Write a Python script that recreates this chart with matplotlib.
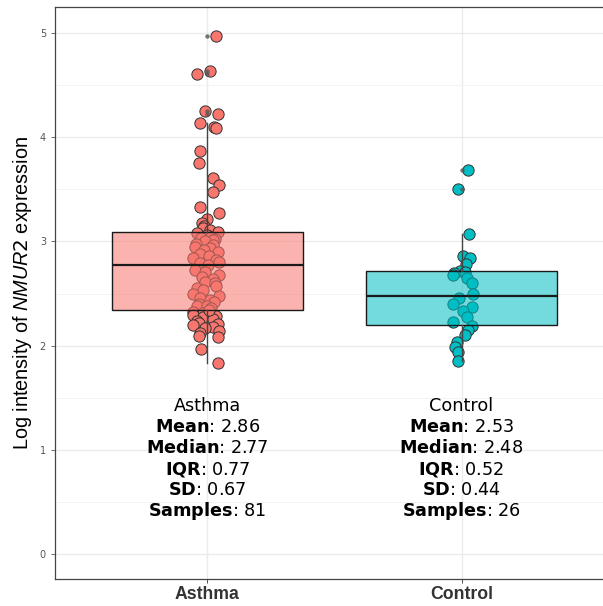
import numpy as np
import matplotlib
matplotlib.use("Agg")
import matplotlib.pyplot as plt

plt.rcParams['mathtext.fontset'] = 'custom'
plt.rcParams['mathtext.rm'] = 'DejaVu Sans'
plt.rcParams['mathtext.bf'] = 'DejaVu Sans:bold'
plt.rcParams['mathtext.it'] = 'Liberation Sans:italic'

# Data
groups = ["Asthma", "Control"]
colors = ["#F8766D", "#00BFC4"]

asthma_vals = [4.97, 4.64, 4.61, 4.25, 4.22, 4.14, 4.10, 4.09, 3.87, 3.75,
               3.61, 3.54, 3.47, 3.33, 3.27, 3.22, 3.18, 3.15, 3.13, 3.11,
               3.09, 3.08, 3.06, 3.04, 3.03, 3.02, 3.01, 3.00, 2.98, 2.97,
               2.95, 2.94, 2.92, 2.90, 2.88, 2.86, 2.84, 2.82, 2.80, 2.79,
               2.77,
               2.73, 2.71, 2.68, 2.66, 2.64, 2.61, 2.60, 2.57, 2.55, 2.53,
               2.50, 2.48, 2.46, 2.44, 2.42, 2.40, 2.38, 2.38, 2.36, 2.32,
               2.31, 2.30, 2.29, 2.29, 2.28, 2.27, 2.26, 2.24, 2.22, 2.21,
               2.20, 2.18, 2.17, 2.14, 2.12, 2.09, 2.08, 1.97, 1.83, 2.34]
asthma_jit = [0.035, 0.012, -0.040, -0.008, 0.043, -0.028, 0.024, 0.035, -0.028, -0.035,
              0.020, 0.047, 0.020, -0.028, 0.047, 0.000, -0.020, -0.012, -0.016, 0.010,
              0.040, -0.040, 0.000, 0.015, -0.025, 0.030, 0.020, -0.010, -0.045, 0.020,
              -0.048, 0.010, -0.015, 0.040, -0.030, 0.005, -0.055, 0.035, 0.047, -0.028,
              0.004,
              -0.048, -0.008, 0.047, -0.020, 0.020, -0.008, 0.030, 0.032, -0.040, -0.016,
              -0.055, 0.047, -0.028, 0.010, 0.024, -0.035, -0.040, 0.000, 0.015, -0.055,
              -0.016, 0.012, -0.055, 0.010, 0.035, -0.016, 0.020, -0.040, -0.035, 0.040,
              -0.055, 0.020, -0.008, 0.045, -0.030, -0.035, 0.043, -0.024, 0.043, 0.005]

control_vals = [3.69, 3.50, 3.07, 2.86, 2.84, 2.78, 2.72, 2.71, 2.70, 2.68,
                2.65, 2.60, 2.50, 2.46, 2.40, 2.37, 2.33, 2.27, 2.23, 2.19,
                2.15, 2.10, 2.03, 1.99, 1.94, 1.85]
control_jit = [0.024, -0.012, 0.028, 0.004, 0.032, 0.016, -0.005, 0.012, -0.030, -0.032,
               0.020, 0.043, 0.047, -0.008, -0.032, 0.043, 0.004, 0.020, -0.035, 0.043,
               0.024, 0.012, -0.016, -0.024, -0.012, -0.012]

stat_mean = ["2.86", "2.53"]
stat_median = ["2.77", "2.48"]
stat_iqr = ["0.77", "0.52"]
stat_sd = ["0.67", "0.44"]
stat_n = ["81", "26"]

fig = plt.figure(figsize=(6.03, 6.06), dpi=100)
ax = fig.add_axes([0.0912, 0.0446, 0.927, 0.9438])

xs = [1, 2]
all_vals = [asthma_vals, control_vals]
all_jit = [asthma_jit, control_jit]

# jittered points (under the semi-transparent boxes)
for x, v, j, c in zip(xs, all_vals, all_jit, colors):
    ax.scatter(np.array(j) + x, v, s=66, color=c, edgecolor="#333333",
               linewidth=0.7, zorder=2)

bp = ax.boxplot(all_vals, positions=xs, widths=0.75, patch_artist=True,
                showcaps=False, whis=1.5,
                medianprops=dict(color="#1a1a1a", linewidth=1.6),
                boxprops=dict(edgecolor="#1a1a1a", linewidth=1.0),
                whiskerprops=dict(color="#444444", linewidth=1.0),
                flierprops=dict(marker="o", markersize=3.2, markerfacecolor="#555555",
                                markeredgecolor="none", alpha=0.8),
                zorder=3)
for patch, c in zip(bp["boxes"], colors):
    patch.set_facecolor(matplotlib.colors.to_rgba(c, 0.55))

# summary text under each box
for i, x in enumerate(xs):
    lines = [groups[i],
             r"$\mathbf{Mean}$: " + stat_mean[i],
             r"$\mathbf{Median}$: " + stat_median[i],
             r"$\mathbf{IQR}$: " + stat_iqr[i],
             r"$\mathbf{SD}$: " + stat_sd[i],
             r"$\mathbf{Samples}$: " + stat_n[i]]
    for k, line in enumerate(lines):
        ax.text(x, 1.42 - k * 0.202, line, ha="center", va="center",
                fontsize=12.7, family="DejaVu Sans", color="black", zorder=4)

ax.set_xlim(0.4, 2.6)
ax.set_ylim(-0.24, 5.25)
ax.set_yticks([0, 1, 2, 3, 4, 5])
ax.set_yticks(np.arange(0.5, 5.0, 1.0), minor=True)
ax.set_xticks(xs)
ax.set_xticklabels(groups, fontsize=12.7, fontweight="bold", color="#333333",
                   family="Liberation Sans")
ax.tick_params(axis="y", labelsize=7, colors="#555555", length=3, width=0.6)
ax.tick_params(axis="x", colors="#333333", length=3, width=0.6, pad=2)
ax.tick_params(axis="y", which="minor", length=0)
ax.grid(True, which="major", color="#EBEBEB", linewidth=1.0, zorder=0)
ax.grid(True, which="minor", axis="y", color="#F3F3F3", linewidth=0.7, zorder=0)
ax.set_axisbelow(True)
for s in ax.spines.values():
    s.set_color("#444444")
    s.set_linewidth(0.9)

ax.set_ylabel(r"Log intensity of $\mathit{NMUR2}$ expression", fontsize=14.3,
              family="Liberation Sans", color="black", labelpad=4)

fig.savefig("out.png", dpi=100)
